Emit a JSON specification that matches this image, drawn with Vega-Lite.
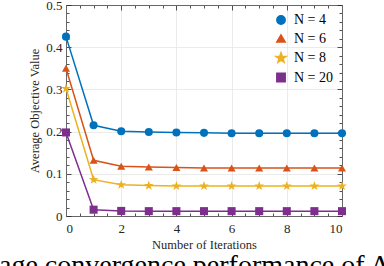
{
  "$schema": "https://vega.github.io/schema/vega-lite/v6.json",
  "width": 276,
  "height": 211,
  "autosize": "none",
  "padding": {"left": 66, "top": 5, "right": 42, "bottom": 50},
  "background": "white",
  "config": {
    "view": {"stroke": null},
    "font": "Liberation Serif",
    "axis": {
      "labelFont": "Liberation Serif",
      "titleFont": "Liberation Serif",
      "labelColor": "#262626",
      "titleColor": "#262626",
      "tickColor": "#262626",
      "domainColor": "#666666",
      "domainWidth": 1,
      "tickWidth": 0.8,
      "gridColor": "#e6e6e6",
      "gridWidth": 0.8,
      "labelFontSize": 13,
      "titleFontSize": 12.5,
      "titleFontWeight": "normal"
    },
    "legend": {
      "labelFont": "Liberation Serif",
      "labelFontSize": 14,
      "labelColor": "#000000"
    }
  },
  "title": {
    "text": "age convergence performance of A",
    "orient": "bottom",
    "anchor": "start",
    "frame": "group",
    "dx": -67,
    "offset": 23,
    "baseline": "alphabetic",
    "font": "Liberation Serif",
    "fontSize": 28,
    "fontWeight": "normal",
    "color": "#000000"
  },
  "data": {
    "values": [
      {"iter": 0, "value": 0.425, "series": "N = 4"},
      {"iter": 1, "value": 0.215, "series": "N = 4"},
      {"iter": 2, "value": 0.201, "series": "N = 4"},
      {"iter": 3, "value": 0.199, "series": "N = 4"},
      {"iter": 4, "value": 0.198, "series": "N = 4"},
      {"iter": 5, "value": 0.197, "series": "N = 4"},
      {"iter": 6, "value": 0.196, "series": "N = 4"},
      {"iter": 7, "value": 0.196, "series": "N = 4"},
      {"iter": 8, "value": 0.196, "series": "N = 4"},
      {"iter": 9, "value": 0.196, "series": "N = 4"},
      {"iter": 10, "value": 0.196, "series": "N = 4"},
      {"iter": 0, "value": 0.35, "series": "N = 6"},
      {"iter": 1, "value": 0.132, "series": "N = 6"},
      {"iter": 2, "value": 0.118, "series": "N = 6"},
      {"iter": 3, "value": 0.116, "series": "N = 6"},
      {"iter": 4, "value": 0.115, "series": "N = 6"},
      {"iter": 5, "value": 0.114, "series": "N = 6"},
      {"iter": 6, "value": 0.114, "series": "N = 6"},
      {"iter": 7, "value": 0.114, "series": "N = 6"},
      {"iter": 8, "value": 0.114, "series": "N = 6"},
      {"iter": 9, "value": 0.114, "series": "N = 6"},
      {"iter": 10, "value": 0.114, "series": "N = 6"},
      {"iter": 0, "value": 0.302, "series": "N = 8"},
      {"iter": 1, "value": 0.086, "series": "N = 8"},
      {"iter": 2, "value": 0.074, "series": "N = 8"},
      {"iter": 3, "value": 0.072, "series": "N = 8"},
      {"iter": 4, "value": 0.071, "series": "N = 8"},
      {"iter": 5, "value": 0.071, "series": "N = 8"},
      {"iter": 6, "value": 0.071, "series": "N = 8"},
      {"iter": 7, "value": 0.071, "series": "N = 8"},
      {"iter": 8, "value": 0.071, "series": "N = 8"},
      {"iter": 9, "value": 0.071, "series": "N = 8"},
      {"iter": 10, "value": 0.071, "series": "N = 8"},
      {"iter": 0, "value": 0.198, "series": "N = 20"},
      {"iter": 1, "value": 0.015, "series": "N = 20"},
      {"iter": 2, "value": 0.012, "series": "N = 20"},
      {"iter": 3, "value": 0.0115, "series": "N = 20"},
      {"iter": 4, "value": 0.0115, "series": "N = 20"},
      {"iter": 5, "value": 0.0115, "series": "N = 20"},
      {"iter": 6, "value": 0.0115, "series": "N = 20"},
      {"iter": 7, "value": 0.0115, "series": "N = 20"},
      {"iter": 8, "value": 0.0115, "series": "N = 20"},
      {"iter": 9, "value": 0.0115, "series": "N = 20"},
      {"iter": 10, "value": 0.0115, "series": "N = 20"}
    ]
  },
  "layer": [
    {
      "mark": {"type": "line", "opacity": 0},
      "encoding": {
        "x": {"field": "iter", "type": "quantitative", "scale": {"domain": [0, 10], "nice": false},
          "axis": {"orient": "bottom", "values": [0.5,1,1.5,2.5,3,3.5,4.5,5,5.5,6.5,7,7.5,8.5,9,9.5], "labels": false, "domain": false, "grid": false, "tickSize": -3, "title": null}},
        "y": {"field": "value", "type": "quantitative", "scale": {"domain": [0, 0.5], "nice": false},
          "axis": {"orient": "left", "values": [0.02,0.04,0.06,0.08,0.12,0.14,0.16,0.18,0.22,0.24,0.26,0.28,0.32,0.34,0.36,0.38,0.42,0.44,0.46,0.48], "labels": false, "domain": false, "grid": false, "tickSize": -3, "title": null}},
        "detail": {"field": "series"}
      }
    },
    {
      "mark": {"type": "line", "opacity": 0},
      "encoding": {
        "x": {"field": "iter", "type": "quantitative",
          "axis": {"orient": "top", "values": [0.5,1,1.5,2.5,3,3.5,4.5,5,5.5,6.5,7,7.5,8.5,9,9.5], "labels": false, "domain": false, "grid": false, "tickSize": -3, "title": null}},
        "y": {"field": "value", "type": "quantitative",
          "axis": {"orient": "right", "values": [0.02,0.04,0.06,0.08,0.12,0.14,0.16,0.18,0.22,0.24,0.26,0.28,0.32,0.34,0.36,0.38,0.42,0.44,0.46,0.48], "labels": false, "domain": false, "grid": false, "tickSize": -3, "title": null}},
        "detail": {"field": "series"}
      }
    },
    {
      "mark": {"type": "line", "opacity": 0},
      "encoding": {
        "x": {"field": "iter", "type": "quantitative",
          "axis": {"orient": "top", "values": [0,2,4,6,8,10], "labels": false, "grid": false, "tickSize": -5, "title": null}},
        "y": {"field": "value", "type": "quantitative",
          "axis": {"orient": "right", "values": [0,0.1,0.2,0.3,0.4,0.5], "labels": false, "grid": false, "tickSize": -5, "title": null}},
        "detail": {"field": "series"}
      }
    },
    {
      "mark": {"type": "line", "strokeWidth": 1.5},
      "encoding": {
        "x": {"field": "iter", "type": "quantitative",
          "axis": {"orient": "bottom", "values": [0,2,4,6,8,10], "grid": true, "tickSize": -5, "labelPadding": 11, "title": "Number of Iterations", "titlePadding": 3}},
        "y": {"field": "value", "type": "quantitative",
          "axis": {"orient": "left", "values": [0,0.1,0.2,0.3,0.4,0.5], "format": ".1~f", "grid": true, "tickSize": -5, "labelPadding": 9, "title": "Average Objective Value", "titlePadding": 4}},
        "color": {"field": "series", "type": "nominal",
          "scale": {"domain": ["N = 4", "N = 6", "N = 8", "N = 20"], "range": ["#0072BD", "#D95319", "#EDB120", "#7E2F8E"]},
          "legend": {"title": null, "orient": "top-right", "offset": 6, "rowPadding": 3.5, "symbolSize": 70, "labelOffset": 6, "padding": 2}}
      }
    },
    {
      "mark": {"type": "point", "filled": true, "opacity": 1, "size": 65},
      "encoding": {
        "x": {"field": "iter", "type": "quantitative", "axis": null},
        "y": {"field": "value", "type": "quantitative", "axis": null},
        "color": {"field": "series", "type": "nominal",
          "scale": {"domain": ["N = 4", "N = 6", "N = 8", "N = 20"], "range": ["#0072BD", "#D95319", "#EDB120", "#7E2F8E"]},
          "legend": {"title": null, "orient": "top-right", "offset": 6, "rowPadding": 3.5, "symbolSize": 70, "labelOffset": 6, "padding": 2}},
        "shape": {"field": "series", "type": "nominal",
          "scale": {"domain": ["N = 4", "N = 6", "N = 8", "N = 20"], "range": ["circle", "triangle-up", "M0,-1.25L0.294,-0.405L1.189,-0.386L0.475,0.155L0.735,1.011L0,0.5L-0.735,1.011L-0.475,0.155L-1.189,-0.386L-0.294,-0.405Z", "square"]},
          "legend": {"title": null, "orient": "top-right", "offset": 6, "rowPadding": 3.5, "symbolSize": 70, "labelOffset": 6, "padding": 2}}
      }
    }
  ],
  "resolve": {"axis": {"x": "independent", "y": "independent"}}
}
